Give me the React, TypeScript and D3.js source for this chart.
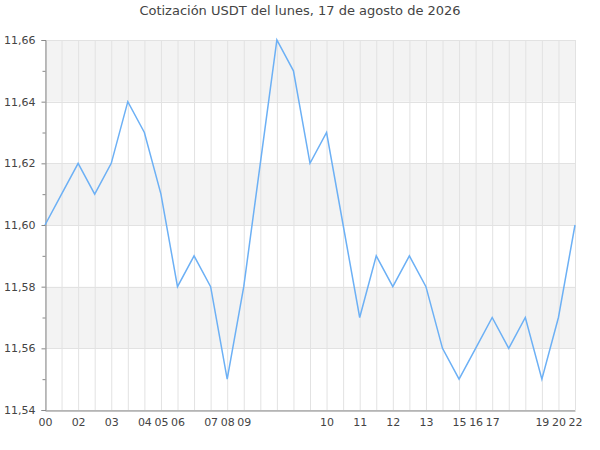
import React, { useEffect, useRef } from 'react';
import * as d3 from 'd3';

const title = 'Cotización USDT del lunes, 17 de agosto de 2026';

// one label per data point, blank where the chart shows none
const hourLabels = [
  '00', '', '02', '', '03', '', '04', '05', '06', '', '07', '08', '09', '', '', '', '',
  '10', '', '11', '', '12', '', '13', '', '15', '16', '17', '', '', '19', '20', '22',
];

const prices = [
  11.60, 11.61, 11.62, 11.61, 11.62, 11.64, 11.63, 11.61, 11.58, 11.59, 11.58,
  11.55, 11.58, 11.62, 11.66, 11.65, 11.62, 11.63, 11.60, 11.57, 11.59, 11.58,
  11.59, 11.58, 11.56, 11.55, 11.56, 11.57, 11.56, 11.57, 11.55, 11.57, 11.60,
];

const yTicks = [11.54, 11.56, 11.58, 11.60, 11.62, 11.64, 11.66];
const yMinorTicks = [11.55, 11.57, 11.59, 11.61, 11.63, 11.65];

const App: React.FC = () => {
  const ref = useRef<SVGSVGElement>(null);

  useEffect(() => {
    const width = 600;
    const height = 450;
    const margin = { top: 40, right: 25, bottom: 40, left: 45 };

    const svg = d3.select(ref.current);
    svg.selectAll('*').remove();

    const x = d3.scalePoint<number>()
      .domain(d3.range(prices.length))
      .range([margin.left, width - margin.right]);

    const y = d3.scaleLinear()
      .domain([11.54, 11.66])
      .range([height - margin.bottom, margin.top]);

    const fmt = (v: number) => v.toFixed(2).replace('.', ',');

    // alternating bands
    for (let i = 0; i < yTicks.length - 1; i++) {
      if (i % 2 === 1) {
        svg.append('rect')
          .attr('x', margin.left)
          .attr('y', y(yTicks[i + 1]))
          .attr('width', width - margin.right - margin.left)
          .attr('height', y(yTicks[i]) - y(yTicks[i + 1]))
          .attr('fill', '#f3f3f3');
      }
    }

    // vertical grid
    svg.append('g')
      .selectAll('line')
      .data(d3.range(prices.length))
      .enter()
      .append('line')
      .attr('x1', d => x(d)! + 0.5)
      .attr('x2', d => x(d)! + 0.5)
      .attr('y1', margin.top)
      .attr('y2', height - margin.bottom)
      .attr('stroke', '#e2e2e2')
      .attr('stroke-width', 1);

    // horizontal grid
    svg.append('g')
      .selectAll('line')
      .data(yTicks)
      .enter()
      .append('line')
      .attr('x1', margin.left)
      .attr('x2', width - margin.right)
      .attr('y1', d => Math.round(y(d)) + 0.5)
      .attr('y2', d => Math.round(y(d)) + 0.5)
      .attr('stroke', '#e2e2e2');

    // y axis
    const yAxis = svg.append('g')
      .attr('transform', `translate(${margin.left + 0.5},0)`)
      .call(d3.axisLeft(y).tickValues(yTicks).tickFormat(d => fmt(d as number)).tickSize(4).tickPadding(6));
    yAxis.select('.domain').attr('stroke', '#888');
    yAxis.selectAll('.tick line').attr('stroke', '#888');
    yAxis.selectAll('text')
      .attr('fill', '#444')
      .style('font-family', 'DejaVu Sans')
      .style('font-size', '11px');

    svg.append('g')
      .attr('transform', `translate(${margin.left + 0.5},0)`)
      .call(d3.axisLeft(y).tickValues(yMinorTicks).tickFormat(() => '').tickSize(3))
      .call(g => g.select('.domain').remove())
      .selectAll('.tick line').attr('stroke', '#888');

    // x axis
    const xAxis = svg.append('g')
      .attr('transform', `translate(0,${height - margin.bottom + 0.5})`)
      .call(d3.axisBottom(x).tickFormat(d => hourLabels[d as number]).tickSize(0).tickPadding(8));
    xAxis.select('.domain').attr('stroke', '#888');
    xAxis.selectAll('text')
      .attr('fill', '#444')
      .style('font-family', 'DejaVu Sans')
      .style('font-size', '11px');

    // price line
    const line = d3.line<number>()
      .x((_, i) => x(i)!)
      .y(d => y(d));

    svg.append('path')
      .datum(prices)
      .attr('d', line)
      .attr('fill', 'none')
      .attr('stroke', '#6cb0f5')
      .attr('stroke-width', 1.5);

    svg.append('text')
      .attr('x', width / 2)
      .attr('y', 15)
      .attr('text-anchor', 'middle')
      .attr('fill', '#444')
      .style('font-family', 'DejaVu Sans')
      .style('font-size', '13px')
      .text(title);
  }, []);

  return (
    <svg
      ref={ref}
      width={600}
      height={450}
      style={{ position: 'absolute', left: 0, top: 0, background: 'white' }}
    />
  );
};

export default App;
